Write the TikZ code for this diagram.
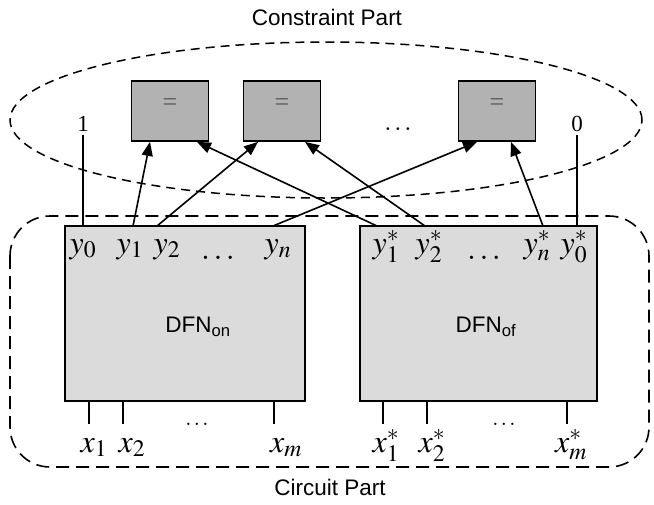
\documentclass[tikz,border=0pt]{standalone}
\usepackage{mathptmx}
\usepackage{fontspec}
\setmainfont{Liberation Serif}
\newfontfamily\arial{Liberation Sans}
\usetikzlibrary{arrows.meta,positioning,calc}
\tikzstyle{eqbox} = [draw,line width=1.8pt,fill=gray!60,minimum width=77pt,minimum height=60pt,inner sep=0pt]
\tikzstyle{dfn} = [draw,line width=1.8pt,fill=gray!28,minimum height=175pt,inner sep=0pt]
\tikzstyle{part} = [font=\arial\fontsize{22.5}{26}\selectfont]
\tikzstyle{pin} = [anchor=base,inner sep=0pt,font=\fontsize{32}{36}\selectfont]
\tikzstyle{small} = [anchor=base,inner sep=0pt,font=\fontsize{22}{26}\selectfont]
\tikzstyle{wire} = [line width=1.6pt]
\tikzset{>={Triangle[length=14pt,width=11pt]}}

\begin{document}
\begin{tikzpicture}[x=1pt,y=-1pt]
    \useasboundingbox (0,0) rectangle (654,504);

    % constraint part
    \node [part] (cons) at (327,17) {Constraint Part};
    \draw [line width=1.5pt,dash pattern=on 9pt off 6pt] (326,120) ellipse [x radius=316pt,y radius=78pt];
    \node [eqbox,label={[yshift=6pt,text=black!65,font=\fontsize{26}{30}\selectfont]center:=}] (eq1) at (170,111) {};
    \node [eqbox,label={[yshift=6pt,text=black!65,font=\fontsize{26}{30}\selectfont]center:=}] (eq2) at (282,111) {};
    \node [eqbox,label={[yshift=6pt,text=black!65,font=\fontsize{26}{30}\selectfont]center:=}] (eq3) at (497,111) {};
    \node [small,font=\fontsize{26}{30}\selectfont] (cdots) at (398,130) {$\ldots$};
    \node [font=\fontsize{23}{27}\selectfont] (one) at (83,124) {1};
    \node [font=\fontsize{23}{27}\selectfont] (zero) at (577,124) {0};

    % circuit part
    \draw [line width=1.6pt,dash pattern=on 13pt off 7pt,rounded corners=40pt] (10,216) rectangle (649,467);
    \node [part] (circ) at (330,487) {Circuit Part};
    \node [dfn,minimum width=240pt] (on) at (185,313.5) {};
    \node [dfn,minimum width=237pt] (of) at (478.5,313.5) {};
    \node [part] (onname) at (198,327) {DFN\textsubscript{on}};
    \node [part] (ofname) at (486,327) {DFN\textsubscript{of}};

    % outputs
    \node [pin] (y0) at (83,253) {$y_0$};
    \node [pin] (y1) at (130,253) {$y_1$};
    \node [pin] (y2) at (167,253) {$y_2$};
    \node [pin] (ydots) at (218,259) {$\ldots$};
    \node [pin] (yn) at (278,253) {$y_n$};
    \node [pin] (ys1) at (386,253) {$y_1^*$};
    \node [pin] (ys2) at (429,253) {$y_2^*$};
    \node [pin] (ysdots) at (484,259) {$\ldots$};
    \node [pin] (ysn) at (537,253) {$y_n^*$};
    \node [pin] (ys0) at (574,253) {$y_0^*$};

    % inputs
    \node [pin] (x1) at (94,452) {$x_1$};
    \node [pin] (x2) at (132,452) {$x_2$};
    \node [small] (xdots) at (197,425) {$\ldots$};
    \node [pin] (xm) at (286,452) {$x_m$};
    \node [pin] (xs1) at (386,452) {$x_1^*$};
    \node [pin] (xs2) at (432,452) {$x_2^*$};
    \node [small] (xsdots) at (504,425) {$\ldots$};
    \node [pin] (xsm) at (571,452) {$x_m^*$};
    \foreach \p in {89,123,274,383,427,567}
        \draw [wire] (\p,0 |- on.south) -- ++(0,22);

    % pins on top of the boxes
    \coordinate (s1) at (133,226);
    \coordinate (s2) at (157,226);
    \coordinate (sn) at (273,226);
    \coordinate (t1) at (377,226);
    \coordinate (t2) at (425,226);
    \coordinate (tn) at (543,226);

    \draw [wire] (one.south) -- (one.south |- on.north);
    \draw [wire] (zero.south) -- (zero.south |- of.north);
    \draw [wire,->] (s1) -- ([xshift=-20pt]eq1.south);
    \draw [wire,->] (s2) -- ([xshift=-24pt]eq2.south);
    \draw [wire,->] (sn) -- ([xshift=-20pt]eq3.south);
    \draw [wire,->] (t1) -- ([xshift=27pt]eq1.south);
    \draw [wire,->] (t2) -- ([xshift=23pt]eq2.south);
    \draw [wire,->] (tn) -- ([xshift=14pt]eq3.south);
  \end{tikzpicture}
\end{document}
